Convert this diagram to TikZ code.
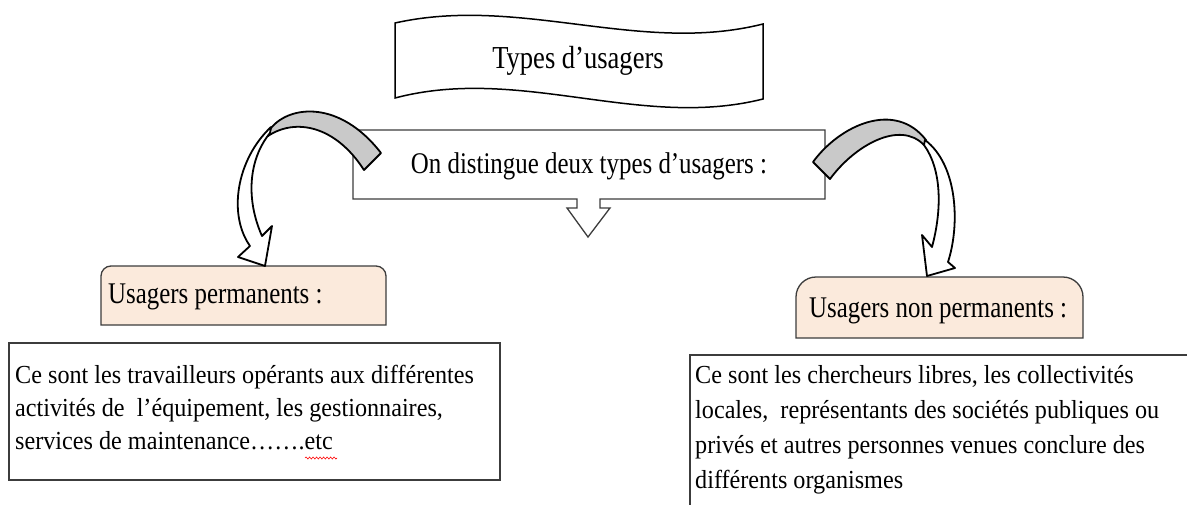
\documentclass[tikz,border=0pt]{standalone}
\usepackage{fontspec}
\setmainfont{Liberation Serif}
\newfontfamily\narrowfont{Liberation Serif}[FakeStretch=0.83]
\newfontfamily\bodyfont{Liberation Serif}[FakeStretch=0.93]
\usetikzlibrary{decorations.pathmorphing}
\definecolor{peach}{HTML}{FBEADC}
\definecolor{band}{HTML}{C9C9C9}
\definecolor{edge}{HTML}{3C3C3C}
\begin{document}
\begin{tikzpicture}[x=1pt,y=-1pt,
  boxline/.style={draw=edge, line width=1.3pt},
  arrowline/.style={draw=black, line width=1.8pt, line join=round},
  txt/.style={inner sep=0pt, text=black},
  labelfont/.style={font=\narrowfont\fontsize{30}{36}\selectfont},
  emptybox/.style={inner sep=0pt, outer sep=0pt, anchor=north west},
]
\useasboundingbox (0,0) rectangle (1187,504);
\clip (0,0) rectangle (1187,504);
\fill[white] (0,0) rectangle (1187,504);

% title banner
\draw[black, line width=1.5pt, fill=white]
  (395,23) .. controls (520,-5) and (640,55) .. (763,24) -- (763,99)
  .. controls (640,130) and (520,65) .. (395,98) -- cycle;
\node[txt, anchor=base, font=\narrowfont\fontsize{32}{38}\selectfont] (title) at (578,68) {Types d’usagers};

% middle callout with down arrow
\draw[boxline, fill=white] (353,130) -- (825,130) -- (825,199) -- (600,199) -- (600,208)
  -- (610,208) -- (588,237) -- (567,208) -- (577,208) -- (577,199) -- (353,199) -- cycle;
\node[txt, anchor=base, font=\narrowfont\fontsize{30}{36}\selectfont] (distingue) at (589,173) {On distingue deux types d’usagers :};

% left label
\node[emptybox, minimum width=285, minimum height=59] (lp) at (101,266) {};
\draw[boxline, fill=peach] (lp.south west) -- ([yshift=-10pt]lp.north west)
  arc[start angle=180, end angle=90, radius=10pt] -- ([xshift=-10pt]lp.north east)
  arc[start angle=90, end angle=0, radius=10pt] -- (lp.south east) -- cycle;
\node[txt, labelfont, anchor=base west] (lpt) at (108,303) {Usagers permanents :};

% right label
\node[emptybox, minimum width=287, minimum height=61] (rp) at (796,277) {};
\draw[boxline, fill=peach] (rp.south west) -- ([yshift=-20pt]rp.north west)
  arc[start angle=180, end angle=90, radius=20pt] -- ([xshift=-20pt]rp.north east)
  arc[start angle=90, end angle=0, radius=20pt] -- (rp.south east) -- cycle;
\node[txt, labelfont, anchor=base west] (rpt) at (809,317) {Usagers non permanents :};

% left body
\node[emptybox, boxline, fill=white, minimum width=491, minimum height=137] (lb) at (9,343) {};
\node[txt, anchor=north west, align=left, font=\bodyfont\fontsize{26}{33}\selectfont] (lbt) at (15,359.9)
  {\strut Ce sont les travailleurs opérants aux différentes\\
   \strut activités de \ l’équipement, les gestionnaires,\\
   \strut services de maintenance…….etc};
\draw[red, line width=0.6pt, decorate, decoration={snake, amplitude=1pt, segment length=3.5pt}] (305,458) -- (337,458);

% right body
\node[emptybox, boxline, fill=white, minimum width=600, minimum height=200] (rb) at (690,355) {};
\node[txt, anchor=north west, align=left, font=\bodyfont\fontsize{26}{35}\selectfont] (rbt) at (695,358.5)
  {\strut Ce sont les chercheurs libres, les collectivités\\
   \strut locales, \ représentants des sociétés publiques ou\\
   \strut privés et autres personnes venues conclure des\\
   \strut différents organismes};

% left curved arrow
\draw[arrowline, fill=band] (271,128) .. controls (290,105) and (340,100) .. (381,153)
  -- (364,170) .. controls (335,125) and (295,118) .. (268,136) -- cycle;
\draw[arrowline, fill=white] (271,127) .. controls (236,160) and (228,215) .. (250,246)
  -- (238,257) -- (265,266) -- (272,226) -- (262,236)
  .. controls (246,200) and (248,160) .. (270,133) -- cycle;

% right curved arrow
\draw[arrowline, fill=band] (813,162) .. controls (840,125) and (895,100) .. (926,140)
  -- (924,145) .. controls (900,120) and (855,145) .. (830,179) -- cycle;
\draw[arrowline, fill=white] (925,140) .. controls (958,165) and (960,225) .. (948,262)
  -- (955,268) -- (927,276) -- (922,235) -- (932,247)
  .. controls (942,210) and (942,170) .. (924,145) -- cycle;
\end{tikzpicture}
\end{document}
